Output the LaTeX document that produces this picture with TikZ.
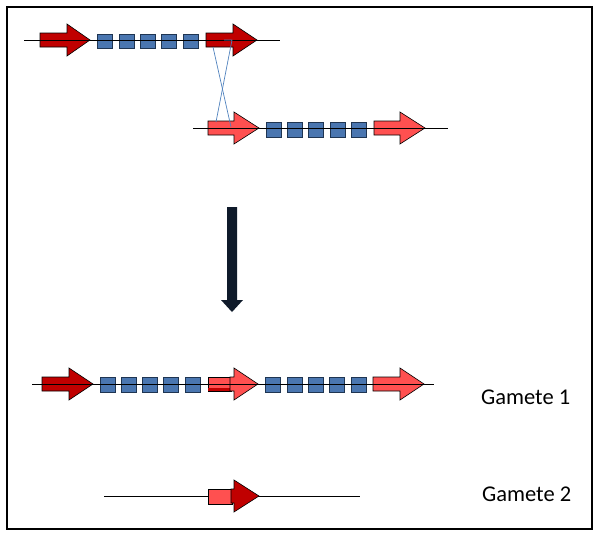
\documentclass[tikz,border=0pt]{standalone}
\usepackage{fontspec}
\setmainfont{Carlito}
\definecolor{darkred}{HTML}{C00000}
\definecolor{lightred}{HTML}{FF5050}
\definecolor{boxblue}{HTML}{4A76B0}
\definecolor{boxedge}{HTML}{1F3552}
\definecolor{crossblue}{HTML}{4F81BD}
\definecolor{navy}{HTML}{0F1A2A}
\newcommand{\genearrow}[5]{%
  \draw[genestyle,fill=#5] (#1,#4-7) -- (#2,#4-7) -- (#2,#4-16) -- (#3,#4)
    -- (#2,#4+16) -- (#2,#4+7) -- (#1,#4+7) -- cycle;}
\newcommand{\bluebox}[3]{%
  \node[repbox] (#1) at (#2,#3) {};}
\tikzset{
  genestyle/.style={draw=black, line width=0.6pt, line join=miter},
  repbox/.style={draw=boxedge, fill=boxblue, line width=0.6pt, minimum width=15pt, minimum height=14.5pt, inner sep=0pt},
  backbone/.style={draw=black, line width=0.8pt},
  crossline/.style={draw=crossblue, line width=0.7pt},
  label/.style={font=\fontsize{22.5}{26}\selectfont, anchor=west, inner sep=0pt}
}
\begin{document}
\begin{tikzpicture}[x=1pt,y=-1pt]
\useasboundingbox (0,0) rectangle (600,536);
\draw[line width=2pt] (7,7) rectangle (592,529);

% Row 1
\coordinate (r1s) at (24,40);
\coordinate (r1e) at (280,40);
\genearrow{40}{67}{90}{40}{darkred}
\foreach \i/\x in {1/105.2,2/126.5,3/147.8,4/169.1,5/190.4} {\bluebox{ra\i}{\x}{41.3}}
\genearrow{206}{233}{257}{40}{darkred}
\draw[backbone] (r1s) -- (r1e);

% Row 2
\coordinate (r2s) at (193,128);
\coordinate (r2e) at (448,128);
\genearrow{208}{234}{259}{128}{lightred}
\foreach \i/\x in {1/273.5,2/294.8,3/316.1,4/337.4,5/358.7} {\bluebox{rb\i}{\x}{130}}
\genearrow{374}{400}{425}{128}{lightred}
\draw[backbone] (r2s) -- (r2e);

% crossover lines
\coordinate (ca1) at (213,47);
\coordinate (ca2) at (231,127);
\coordinate (cb0) at (224,40);
\coordinate (cb1) at (232,40);
\coordinate (cb2) at (216,122);
\draw[crossline] (ca1) -- (ca2);
\draw[crossline] (cb0) -- (cb1) -- (cb2);

% big down arrow
\coordinate (dtop) at (232,207);
\coordinate (dtip) at (232,312);
\fill[navy] (227,207) -- (237,207) -- (237,300) -- (243,300) -- (dtip)
  -- (221,300) -- (227,300) -- cycle;

% Row 3 (Gamete 1)
\coordinate (r3s) at (32,384);
\coordinate (r3e) at (434,384);
\genearrow{42}{69}{93}{384}{darkred}
\foreach \i/\x in {1/107.5,2/128.5,3/149.8,4/171,5/192.5} {\bluebox{rc\i}{\x}{385}}
\draw[genestyle,fill=lightred] (208,377) rectangle (231,391);
\fill[darkred] (208.3,387.5) rectangle (230.7,390.7);
\genearrow{230}{234}{258}{384}{lightred}
\foreach \i/\x in {1/273.2,2/294.5,3/315.8,4/337.1,5/358.5} {\bluebox{rd\i}{\x}{385}}
\genearrow{373}{400}{424}{384}{lightred}
\draw[backbone] (r3s) -- (r3e);

% Row 4 (Gamete 2)
\coordinate (r4s) at (104,496);
\coordinate (r4e) at (360,496);
\draw[backbone] (r4s) -- (r4e);
\draw[genestyle,fill=lightred] (208,489) rectangle (232,504);
\genearrow{231}{234}{259}{496}{darkred}

% labels
\node[label] (g1) at (481,397) {Gamete 1};
\node[label] (g2) at (482,494) {Gamete 2};
\end{tikzpicture}
\end{document}
